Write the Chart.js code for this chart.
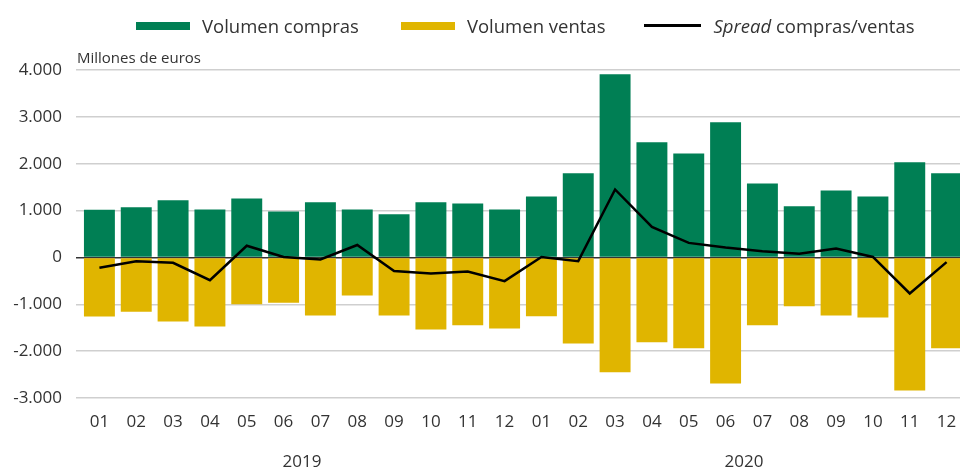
<!DOCTYPE html>
<html>
<head>
<meta charset="utf-8">
<script src="https://cdn.jsdelivr.net/npm/chart.js@4/dist/chart.umd.min.js"></script>
<style>
  html, body { margin: 0; padding: 0; background: #fff; overflow: hidden; }
  #wrap { position: relative; width: 965px; height: 470px; font-family: "Open Sans", "Noto Sans", sans-serif; color: #333; }
  #legend { position: absolute; top: 13px; left: 136px; width: 820px; display: flex; align-items: center; font-size: 18.5px; white-space: nowrap; }
  #legend .item { display: flex; align-items: center; flex-shrink: 0; }
  #legend .box { display: block; width: 54px; height: 8px; margin-right: 12px; flex-shrink: 0; }
  #legend .line { display: block; width: 57px; height: 3px; background: #000; margin-right: 12px; flex-shrink: 0; }
  #unit { position: absolute; top: 47px; left: 77px; font-size: 15px; }
  canvas { position: absolute; top: 0; left: 0; }
</style>
</head>
<body>
<div id="wrap">
  <!-- a bit wider than the window: the last bar is cut by the right edge, like the original -->
  <canvas id="chart" width="965" height="470"></canvas>
  <div id="legend">
    <div class="item"><span class="box" style="background:#007f54"></span>Volumen compras</div>
    <div class="item" style="margin-left:42px"><span class="box" style="background:#e0b500"></span>Volumen ventas</div>
    <div class="item" style="margin-left:39px"><span class="line"></span><i>Spread</i>&nbsp;compras/ventas</div>
  </div>
  <div id="unit">Millones de euros</div>
</div>
<script>
const months = ['01','02','03','04','05','06','07','08','09','10','11','12',
                '01','02','03','04','05','06','07','08','09','10','11','12'];
const years = ['2019', '2020'];
const compras = [1020, 1070, 1220, 1025, 1260, 980, 1175, 1025, 920, 1175, 1150, 1025,
                 1300, 1795, 3910, 2460, 2220, 2885, 1580, 1090, 1430, 1300, 2030, 1795];
const ventas = [-1260, -1160, -1370, -1475, -1000, -965, -1240, -810, -1240, -1540, -1450, -1515,
                -1255, -1835, -2450, -1810, -1940, -2690, -1450, -1040, -1240, -1280, -2840, -1940];
const spread = [-220, -80, -115, -485, 250, 10, -45, 265, -290, -345, -300, -505,
                10, -80, 1450, 650, 310, 210, 130, 80, 190, 10, -770, -100];

const tickFont = { family: '"Open Sans", "Noto Sans", sans-serif', size: 17 };

new Chart(document.getElementById('chart'), {
  type: 'bar',
  data: {
    labels: months,
    datasets: [
      {
        label: 'Spread compras/ventas',
        type: 'line',
        data: spread,
        borderColor: '#000',
        borderWidth: 2.5,
        pointRadius: 0,
        tension: 0,
        stack: 'spread',
        order: 0
      },
      {
        label: 'Volumen compras',
        data: compras,
        backgroundColor: '#007f54',
        stack: 'vol',
        barPercentage: 0.84,
        categoryPercentage: 1,
        order: 1
      },
      {
        label: 'Volumen ventas',
        data: ventas,
        backgroundColor: '#e0b500',
        stack: 'vol',
        barPercentage: 0.84,
        categoryPercentage: 1,
        order: 1
      }
    ]
  },
  options: {
    responsive: false,
    animation: false,
    layout: { padding: { top: 70, right: 0, left: 0, bottom: 0 } },
    plugins: {
      legend: { display: false },
      tooltip: { enabled: false }
    },
    scales: {
      x: {
        stacked: true,
        afterFit: (scale) => { scale.height = 38; },
        // tick space instead of label padding, so no extra room is kept on the right
        grid: { display: false, drawTicks: true, tickLength: 14 },
        border: { display: false },
        ticks: { color: '#333', font: tickFont, padding: 0, maxRotation: 0, autoSkip: false }
      },
      x2: {
        type: 'category',
        labels: years,
        position: 'bottom',
        offset: true,
        afterFit: (scale) => { scale.height = 34; },
        grid: { display: false, drawTicks: true, tickLength: 16 },
        border: { display: false },
        ticks: { color: '#333', font: tickFont, padding: 0, maxRotation: 0 }
      },
      y: {
        stacked: true,
        min: -3000,
        max: 4000,
        afterFit: (scale) => { scale.width = 81; },
        grid: {
          drawTicks: true,
          tickLength: 5,
          lineWidth: 1.5,
          color: (ctx) => ctx.tick && ctx.tick.value === 0 ? '#333' : '#cfcfcf'
        },
        border: { display: false },
        ticks: {
          stepSize: 1000,
          color: '#333',
          font: tickFont,
          padding: 14,
          callback: (v) => v.toLocaleString('de-DE')
        }
      }
    }
  }
});
</script>
</body>
</html>
